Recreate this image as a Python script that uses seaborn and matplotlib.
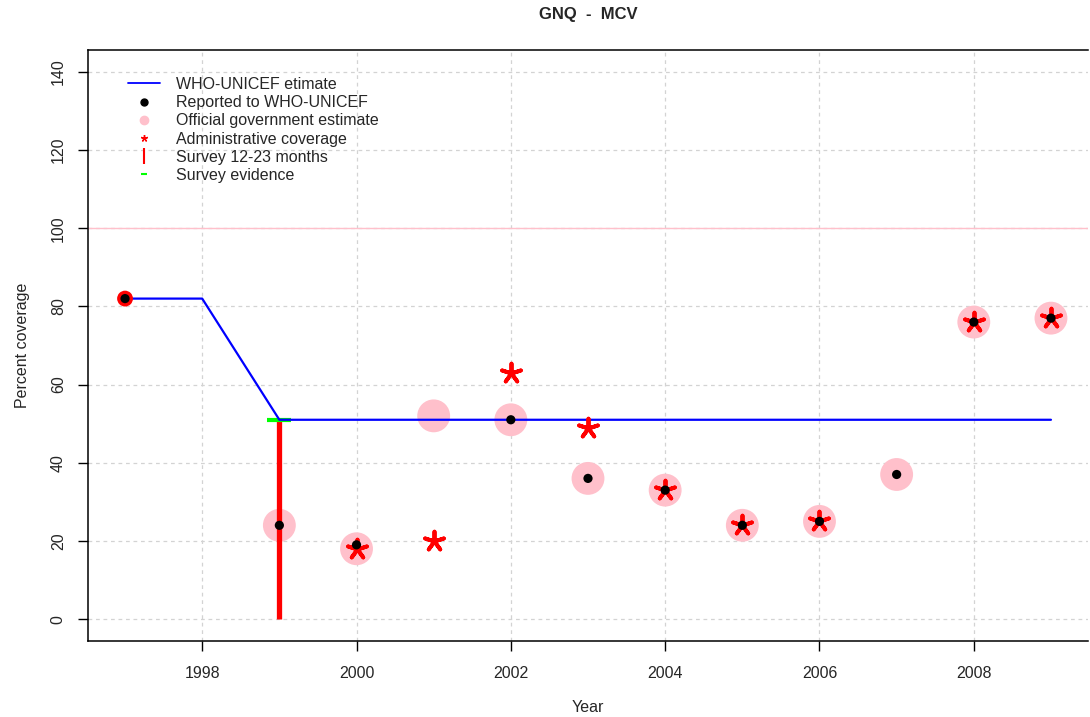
import matplotlib
matplotlib.use("Agg")
import matplotlib.pyplot as plt
from matplotlib.lines import Line2D
import seaborn as sns
import pandas as pd

# WHO-UNICEF estimate
est_years = [1997, 1998, 1999, 2000, 2001, 2002, 2003, 2004, 2005, 2006, 2007, 2008, 2009]
est_vals = [82, 82, 51, 51, 51, 51, 51, 51, 51, 51, 51, 51, 51]

# reported to WHO-UNICEF
rep_years = [1997, 1999, 2000, 2002, 2003, 2004, 2005, 2006, 2007, 2008, 2009]
rep_vals = [82, 24, 19, 51, 36, 33, 24, 25, 37, 76, 77]

# official government estimate
gov_years = [1999, 2000, 2001, 2002, 2003, 2004, 2005, 2006, 2007, 2008, 2009]
gov_vals = [24, 18, 52, 51, 36, 33, 24, 25, 37, 76, 77]

# administrative coverage
adm_years = [2000, 2001, 2002, 2003, 2004, 2005, 2006, 2008, 2009]
adm_vals = [18, 20, 63, 49, 33, 24, 25, 76, 77]

# survey 12-23 months and survey evidence
srv_years = [1999]
srv_vals = [51]
evid_years = [1999]
evid_vals = [51]

# red ring at first year
first_years = [1997]
first_vals = [82]

sns.set_style("white")
plt.rcParams['font.family'] = ['Liberation Sans', 'DejaVu Sans']

fig = plt.figure(figsize=(10.9, 7.17), dpi=100)
ax = fig.add_axes([88 / 1090, 76 / 717, 1000 / 1090, 591 / 717])

ax.axhline(100, color='pink', lw=1, zorder=1)

gov = pd.DataFrame({'year': gov_years, 'val': gov_vals})
sns.scatterplot(data=gov, x='year', y='val', ax=ax, color='pink', s=560,
                edgecolor='none', zorder=2, legend=False)

ax.vlines(srv_years, 0, srv_vals, color='red', lw=3.8, zorder=3)
ax.scatter(evid_years, evid_vals, marker='_', color='#00ff00', s=280,
           linewidths=3, zorder=3)

est = pd.DataFrame({'year': est_years, 'val': est_vals})
sns.lineplot(data=est, x='year', y='val', ax=ax, color='blue', lw=1.6, zorder=4)

ax.scatter(first_years, first_vals, marker='o', color='red', s=130,
           edgecolor='none', zorder=4)

adm = pd.DataFrame({'year': adm_years, 'val': adm_vals})
ax.scatter(adm['year'], adm['val'], marker=(5, 2, 0), color='red', s=200,
           linewidths=2.8, zorder=5)

rep = pd.DataFrame({'year': rep_years, 'val': rep_vals})
sns.scatterplot(data=rep, x='year', y='val', ax=ax, color='black', s=44,
                edgecolor='none', zorder=6, legend=False)

ax.set_xlim(1996.52, 2009.48)
ax.set_ylim(-5.6, 145.6)
ax.set_xticks([1998, 2000, 2002, 2004, 2006, 2008])
ax.set_yticks(range(0, 141, 20))
ax.grid(True, color='#d3d3d3', linestyle=(0, (3, 3)), lw=0.9)
ax.set_axisbelow(True)
ax.tick_params(axis='both', direction='out', length=7, width=1, color='black',
               labelsize=11.5, bottom=True, left=True)
ax.tick_params(axis='x', pad=11)
ax.tick_params(axis='y', pad=9)
plt.setp(ax.get_yticklabels(), rotation=90, va='center')
for s in ['left', 'bottom', 'top']:
    ax.spines[s].set_color('black')
    ax.spines[s].set_linewidth(1.1)
ax.spines['right'].set_visible(False)

ax.set_xlabel('Year', fontsize=11.5, labelpad=14)
ax.set_ylabel('Percent coverage', fontsize=11.5, labelpad=15)
fig.suptitle('GNQ  -  MCV', x=588 / 1090, y=1 - 7 / 717, va='top',
             fontsize=12, fontweight='bold')

handles = [
    Line2D([], [], color='blue', lw=1.3),
    Line2D([], [], color='black', marker='o', ls='none', ms=5),
    Line2D([], [], color='pink', marker='o', ls='none', ms=6),
    Line2D([], [], color='red', marker=(5, 2, 0), ls='none', ms=5, mew=1),
    Line2D([], [], color='red', marker='|', ls='none', ms=11, mew=1.5),
    Line2D([], [], color='#00ff00', marker='_', ls='none', ms=4, mew=1.5),
]
labels = ['WHO-UNICEF etimate', 'Reported to WHO-UNICEF',
          'Official government estimate', 'Administrative coverage',
          'Survey 12-23 months', 'Survey evidence']
fig.legend(handles, labels, loc='upper left',
           bbox_to_anchor=(128 / 1090, 1 - 77 / 717), frameon=False,
           fontsize=11.5, handlelength=2.0, handletextpad=1.0,
           labelspacing=0.2, borderpad=0, borderaxespad=0)

fig.savefig('out.png', dpi=100)
